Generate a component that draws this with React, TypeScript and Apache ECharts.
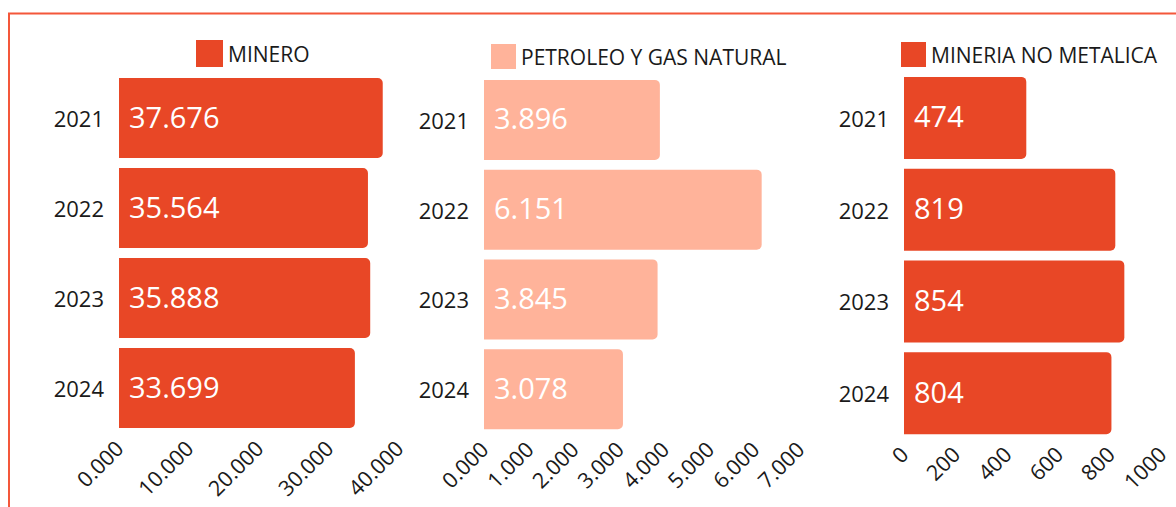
import React, { useEffect, useRef } from "react";
import * as echarts from "echarts";

const years = ["2021", "2022", "2023", "2024"];
const minero = [37676, 35564, 35888, 33699];
const petroleo = [3896, 6151, 3845, 3078];
const noMetalica = [474, 819, 854, 804];
const seriesNames = ["MINERO", "PETROLEO Y GAS NATURAL", "MINERIA NO METALICA"];

const ORANGE = "#E84726";
const LIGHT = "#FFB39A";
const FONT = "Open Sans";

function thousands(v: number): string {
  const s = Math.round(v).toString();
  return s.replace(/\B(?=(\d{3})+(?!\d))/g, ".");
}

function decimalsAxis(v: number): string {
  if (v === 0) return "0.000";
  return thousands(v);
}

export default function App() {
  const ref = useRef<HTMLDivElement>(null);
  useEffect(() => {
    if (!ref.current) return;
    const chart = echarts.init(ref.current, null, { renderer: "svg" });
    const grids = [
      { left: 119, top: 73, width: 280, height: 360 },
      { left: 484, top: 75, width: 316, height: 359 },
      { left: 904, top: 72, width: 258, height: 367 },
    ];
    const xCfg = [
      { max: 40000, interval: 10000, fmt: decimalsAxis },
      { max: 7000, interval: 1000, fmt: decimalsAxis },
      { max: 1000, interval: 200, fmt: (v: number) => String(v) },
    ];
    const datas = [minero, petroleo, noMetalica];
    const colors = [ORANGE, LIGHT, ORANGE];
    const barWidths = [80, 80, 82];
    const legendPos = [
      { left: 196, top: 40, size: 27 },
      { left: 491, top: 44, size: 25 },
      { left: 901, top: 42, size: 25 },
    ];

    chart.setOption({
      animation: false,
      backgroundColor: "#ffffff",
      graphic: [
        {
          type: "rect",
          shape: { x: 9, y: 13.5, width: 1400, height: 700 },
          style: { fill: "none", stroke: "#F4573A", lineWidth: 2 },
          silent: true,
        },
      ],
      legend: legendPos.map((p, i) => ({
        data: [seriesNames[i]],
        left: p.left,
        top: p.top,
        itemWidth: p.size,
        itemHeight: p.size,
        icon: "rect",
        padding: 0,
        selectedMode: false,
        textStyle: { fontFamily: FONT, fontSize: 21, color: "#1a1a1a" },
      })),
      grid: grids.map((g) => ({ ...g, containLabel: false })),
      xAxis: xCfg.map((c, i) => ({
        type: "value",
        gridIndex: i,
        min: 0,
        max: c.max,
        interval: c.interval,
        axisLine: { show: false },
        axisTick: { show: false },
        splitLine: { show: false },
        axisLabel: {
          rotate: 45,
          margin: 11,
          fontFamily: FONT,
          fontSize: 21.5,
          color: "#1a1a1a",
          formatter: c.fmt,
        },
      })),
      yAxis: grids.map((_, i) => ({
        type: "category",
        gridIndex: i,
        inverse: true,
        data: years,
        axisLine: { show: false },
        axisTick: { show: false },
        splitLine: { show: false },
        axisLabel: {
          margin: 15,
          fontFamily: FONT,
          fontSize: 22,
          color: "#1a1a1a",
        },
      })),
      series: datas.map((d, i) => ({
        name: seriesNames[i],
        type: "bar",
        xAxisIndex: i,
        yAxisIndex: i,
        data: d,
        barWidth: barWidths[i],
        itemStyle: { color: colors[i], borderRadius: [0, 5, 5, 0] },
        label: {
          show: true,
          position: "insideLeft",
          distance: 10,
          offset: [0, -2],
          color: "#ffffff",
          fontFamily: FONT,
          fontSize: 29,
          formatter: (p: any) => thousands(p.value),
        },
      })),
    });
    return () => chart.dispose();
  }, []);
  return (
    <div
      ref={ref}
      style={{ position: "fixed", left: 0, top: 0, width: 1176, height: 507 }}
    />
  );
}
